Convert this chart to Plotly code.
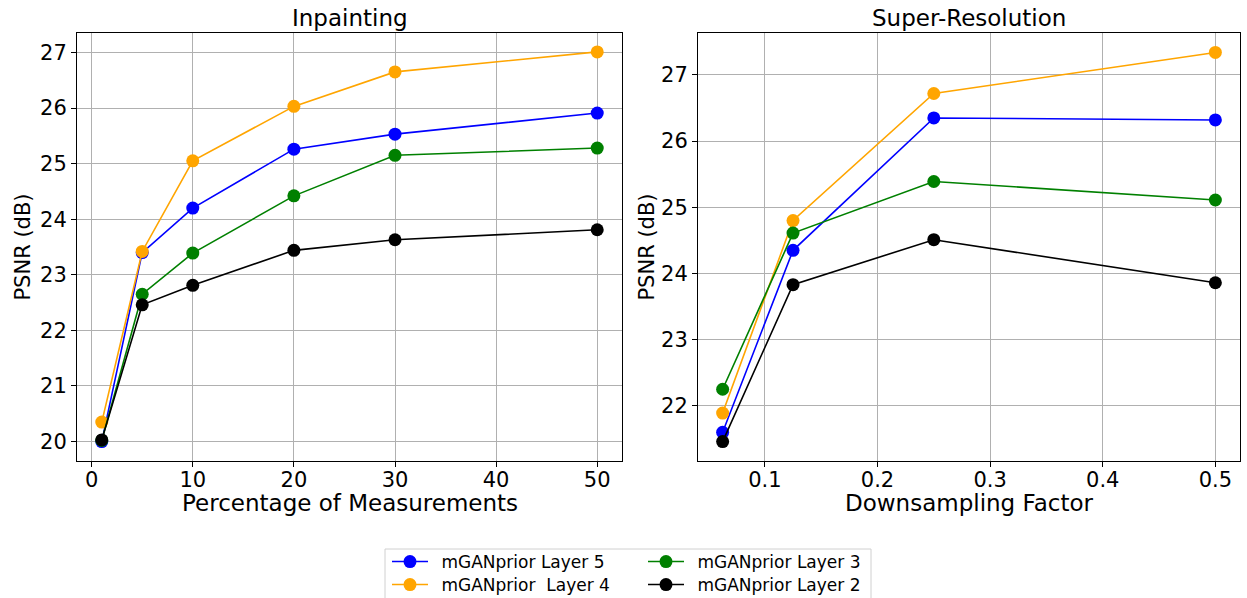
import plotly.graph_objects as go
from plotly.subplots import make_subplots

# ---- data ----
inp_x = [1, 5, 10, 20, 30, 50]
sr_x = [0.0625, 0.125, 0.25, 0.5]

names = ["mGANprior Layer 5", "mGANprior\u00a0 Layer 4", "mGANprior Layer 3", "mGANprior Layer 2"]
colors = ["#0000ff", "#ffa500", "#008000", "#000000"]

inp_layer5 = [20.00, 23.40, 24.20, 25.26, 25.53, 25.91]
inp_layer4 = [20.35, 23.42, 25.05, 26.03, 26.65, 27.01]
inp_layer3 = [20.02, 22.65, 23.39, 24.42, 25.15, 25.28]
inp_layer2 = [20.03, 22.46, 22.81, 23.44, 23.63, 23.81]

sr_layer5 = [21.60, 24.35, 26.35, 26.32]
sr_layer4 = [21.89, 24.80, 26.72, 27.34]
sr_layer3 = [22.25, 24.61, 25.39, 25.11]
sr_layer2 = [21.46, 23.83, 24.51, 23.86]

inp_series = [inp_layer5, inp_layer4, inp_layer3, inp_layer2]
sr_series = [sr_layer5, sr_layer4, sr_layer3, sr_layer2]

titles = ["Inpainting", "Super-Resolution"]
xlabels = ["Percentage of Measurements", "Downsampling Factor"]
ylabel = "PSNR (dB)"

FONT = "DejaVu Sans"
TICK_SIZE = 21
XLABEL_SIZE = 23
YLABEL_SIZE = 21
TITLE_SIZE = 23
LEGEND_SIZE = 17

# figure / plot-area geometry (pixels)
W, H = 1247, 598
ML, MR, MT, MB = 77, 7, 33, 137
PW = W - ML - MR
PH = H - MT - MB


def px_x(p):
    return (p - ML) / PW


def px_y(p):
    return (H - MB - p) / PH


fig = make_subplots(rows=1, cols=2)

legend_ids = ["legend", "legend3", "legend2", "legend4"]  # L5, L4, L3, L2
EN = "\u2002"

for i in range(4):
    fig.add_trace(go.Scatter(
        x=inp_x, y=inp_series[i], mode="lines+markers", name=EN + names[i],
        line=dict(color=colors[i], width=1.6),
        marker=dict(color=colors[i], size=13),
        legend=legend_ids[i], showlegend=True), row=1, col=1)
for i in range(4):
    fig.add_trace(go.Scatter(
        x=sr_x, y=sr_series[i], mode="lines+markers", name=names[i],
        line=dict(color=colors[i], width=1.6),
        marker=dict(color=colors[i], size=13),
        showlegend=False), row=1, col=2)

axis_common = dict(
    showline=True, linecolor="#000000", linewidth=1, mirror=True,
    ticks="outside", ticklen=5, tickcolor="#000000", tickwidth=1,
    showgrid=True, gridcolor="#b0b0b0", gridwidth=0.8, zeroline=False,
    tickfont=dict(family=FONT, size=TICK_SIZE, color="#000000"),
    automargin=False,
)

fig.update_xaxes(**axis_common)
fig.update_yaxes(**axis_common)

xfont = dict(family=FONT, size=XLABEL_SIZE, color="#000000")
yfont = dict(family=FONT, size=YLABEL_SIZE, color="#000000")
fig.update_xaxes(range=[-1.45, 52.45], tickvals=[0, 10, 20, 30, 40, 50], ticklabelstandoff=-5,
                 row=1, col=1)
fig.update_xaxes(range=[0.040625, 0.521875], tickvals=[0.1, 0.2, 0.3, 0.4, 0.5], ticklabelstandoff=-5,
                 row=1, col=2)
fig.update_yaxes(range=[19.65, 27.35], tickvals=[20, 21, 22, 23, 24, 25, 26, 27],
                 title=dict(text=ylabel, font=yfont, standoff=3), row=1, col=1)
fig.update_yaxes(range=[21.166, 27.634], tickvals=[22, 23, 24, 25, 26, 27],
                 title=dict(text=ylabel, font=yfont, standoff=0), row=1, col=2)

leg_common = dict(
    orientation="v", xanchor="left", yanchor="middle",
    bgcolor="rgba(0,0,0,0)", borderwidth=0,
    font=dict(family=FONT, size=LEGEND_SIZE, color="#000000"),
    itemwidth=36,
)
col_x = [px_x(387), px_x(643)]
row_y = [px_y(562), px_y(585)]

left_dom = [0, px_x(622)]
right_dom = [px_x(698), 1]

fig.update_layout(
    width=W, height=H,
    margin=dict(l=ML, r=MR, t=MT, b=MB, autoexpand=False),
    paper_bgcolor="white", plot_bgcolor="white",
    font=dict(family=FONT, color="#000000"),
    xaxis=dict(domain=left_dom),
    xaxis2=dict(domain=right_dom),
    annotations=[
        dict(text=titles[0], x=sum(left_dom) / 2, y=1.0, xref="paper", yref="paper", xanchor="center",
             yanchor="bottom", yshift=0, showarrow=False, font=dict(family=FONT, size=TITLE_SIZE, color="#000000")),
        dict(text=titles[1], x=sum(right_dom) / 2, y=1.0, xref="paper", yref="paper", xanchor="center",
             yanchor="bottom", yshift=0, showarrow=False, font=dict(family=FONT, size=TITLE_SIZE, color="#000000")),
        dict(text=xlabels[0], x=sum(left_dom) / 2, y=px_y(503), xref="paper", yref="paper", xanchor="center",
             yanchor="middle", showarrow=False, borderpad=0, font=xfont),
        dict(text=xlabels[1], x=sum(right_dom) / 2, y=px_y(503), xref="paper", yref="paper", xanchor="center",
             yanchor="middle", showarrow=False, borderpad=0, font=xfont),
    ],
    shapes=[dict(type="rect", xref="paper", yref="paper",
                 x0=px_x(385), x1=px_x(871), y0=px_y(549), y1=px_y(640),
                 line=dict(color="#d0d0d0", width=1), fillcolor="white", layer="below")],
    legend=dict(x=col_x[0], y=row_y[0], **leg_common),
    legend3=dict(x=col_x[0], y=row_y[1], **leg_common),
    legend2=dict(x=col_x[1], y=row_y[0], **leg_common),
    legend4=dict(x=col_x[1], y=row_y[1], **leg_common),
    showlegend=True,
)

fig.write_html("out.html", config={"displayModeBar": False},
               post_script="document.body.style.margin='0px';document.body.style.overflow='hidden';")
